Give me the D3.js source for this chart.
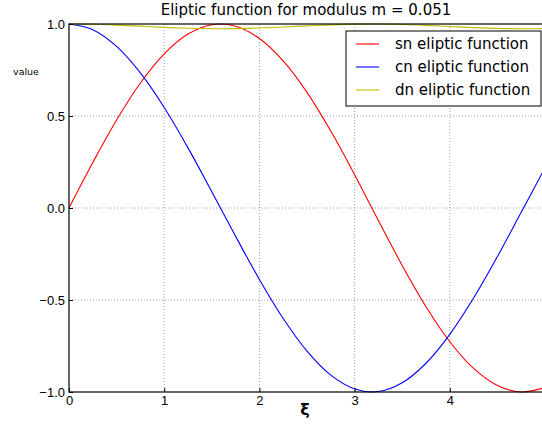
<!DOCTYPE html>
<html lang="en">
<head>
    <meta charset="UTF-8">
    <script src="https://cdn.jsdelivr.net/npm/d3@7"></script>
    <title>Eliptic function</title>
    <style>
        body { margin: 0; background: white; }
        svg { font-family: 'DejaVu Sans', sans-serif; }
        .grid line { stroke: #888; stroke-dasharray: 1,2; stroke-width: 0.8px; }
        .tick text { font-size: 13px; fill: #000; }
    </style>
</head>
<body>
<div id="chart"></div>
<script>
    // Data, xi from 0 to 5 in steps of 0.25
    const xiValues = [0, 0.25, 0.5, 0.75, 1, 1.25, 1.5, 1.75, 2, 2.25, 2.5,
                      2.75, 3, 3.25, 3.5, 3.75, 4, 4.25, 4.5, 4.75, 5];
    const snValues = [0, 0.2473, 0.4785, 0.6793, 0.8377, 0.9452, 0.9960, 0.9881, 0.9215, 0.7996, 0.6285,
                      0.4180, 0.1806, -0.0683, -0.3126, -0.5368, -0.7268, -0.8720, -0.9645, -0.9997, -0.9758];
    const cnValues = [1, 0.9689, 0.8781, 0.7339, 0.5461, 0.3268, 0.0889, -0.1540, -0.3883, -0.6006, -0.7778,
                      -0.9085, -0.9835, -0.9976, -0.9499, -0.8438, -0.6868, -0.4895, -0.2640, -0.0235, 0.2186];
    const dnValues = [1, 0.9984, 0.9941, 0.9882, 0.9819, 0.9770, 0.9744, 0.9748, 0.9781, 0.9836, 0.9899,
                      0.9955, 0.9992, 0.9999, 0.9975, 0.9926, 0.9864, 0.9804, 0.9760, 0.9742, 0.9754];
    const seriesNames = ["sn eliptic function", "cn eliptic function", "dn eliptic function"];
    const seriesColors = ["#ff0000", "#0000ff", "#bfbf00"];
    const xTicks = [0, 1, 2, 3, 4];
    const yTicks = [-1.0, -0.5, 0.0, 0.5, 1.0];

    const width = 542, height = 424;
    const plot = { left: 69, right: 545, top: 24, bottom: 392 };

    const svg = d3.select("#chart").append("svg")
        .attr("width", width)
        .attr("height", height);

    const x = d3.scaleLinear().domain([0, 5]).range([plot.left, plot.right]);
    const y = d3.scaleLinear().domain([-1, 1]).range([plot.bottom, plot.top]);

    svg.append("clipPath").attr("id", "clip")
        .append("rect")
        .attr("x", plot.left).attr("y", plot.top - 1)
        .attr("width", plot.right - plot.left).attr("height", plot.bottom - plot.top + 2);

    // grid
    const grid = svg.append("g").attr("class", "grid");
    grid.selectAll(".gx").data(xTicks.filter(d => d > 0)).enter().append("line")
        .attr("x1", d => x(d)).attr("x2", d => x(d))
        .attr("y1", plot.top).attr("y2", plot.bottom);
    grid.selectAll(".gy").data(yTicks.filter(d => d > -1 && d < 1)).enter().append("line")
        .attr("x1", plot.left).attr("x2", plot.right)
        .attr("y1", d => y(d)).attr("y2", d => y(d));

    // lines
    const series = [snValues, cnValues, dnValues];
    const line = d3.line()
        .x((d, i) => x(xiValues[i]))
        .y(d => y(d))
        .curve(d3.curveCatmullRom.alpha(0.5));

    svg.append("g").attr("clip-path", "url(#clip)")
        .selectAll("path")
        .data(series)
        .enter().append("path")
        .attr("d", d => line(d))
        .attr("fill", "none")
        .attr("stroke", (d, i) => seriesColors[i])
        .attr("stroke-width", 1.1);

    // frame
    svg.append("rect")
        .attr("x", plot.left).attr("y", plot.top)
        .attr("width", plot.right - plot.left).attr("height", plot.bottom - plot.top)
        .attr("fill", "none").attr("stroke", "#000").attr("stroke-width", 1.2);

    // axes
    const xAxis = d3.axisBottom(x).tickValues(xTicks).tickFormat(d3.format("d"))
        .tickSizeInner(-4).tickSizeOuter(0).tickPadding(4);
    const gx = svg.append("g").attr("transform", `translate(0,${plot.bottom})`).call(xAxis);
    gx.select(".domain").remove();

    const yAxis = d3.axisLeft(y).tickValues(yTicks).tickFormat(d3.format(".1f"))
        .tickSizeInner(-4).tickSizeOuter(0).tickPadding(4);
    const gy = svg.append("g").attr("transform", `translate(${plot.left},0)`).call(yAxis);
    gy.select(".domain").remove();
    gy.selectAll(".tick text").text(d => d3.format(".1f")(d).replace("-", "\u2212"));

    // title and labels
    svg.append("text")
        .attr("x", 306).attr("y", 15)
        .attr("text-anchor", "middle")
        .style("font-size", "15px")
        .text("Eliptic function for modulus m = 0.051");

    svg.append("text")
        .attr("x", 26).attr("y", 75)
        .attr("text-anchor", "middle")
        .style("font-size", "9.5px")
        .text("value");

    svg.append("text")
        .attr("x", 305).attr("y", 415)
        .attr("text-anchor", "middle")
        .style("font-size", "16px")
        .style("font-weight", "bold")
        .text("ξ");

    // legend
    const legend = svg.append("g");
    legend.append("rect")
        .attr("x", 346).attr("y", 31)
        .attr("width", 195).attr("height", 75)
        .attr("fill", "white").attr("stroke", "#000").attr("stroke-width", 1);
    const items = legend.selectAll(".item").data(seriesNames).enter().append("g")
        .attr("transform", (d, i) => `translate(0,${44 + i * 23})`);
    items.append("line")
        .attr("x1", 356).attr("x2", 379)
        .attr("stroke", (d, i) => seriesColors[i]).attr("stroke-width", 1.1);
    items.append("text")
        .attr("x", 395).attr("y", 5)
        .style("font-size", "15px")
        .text(d => d);
</script>
</body>
</html>
